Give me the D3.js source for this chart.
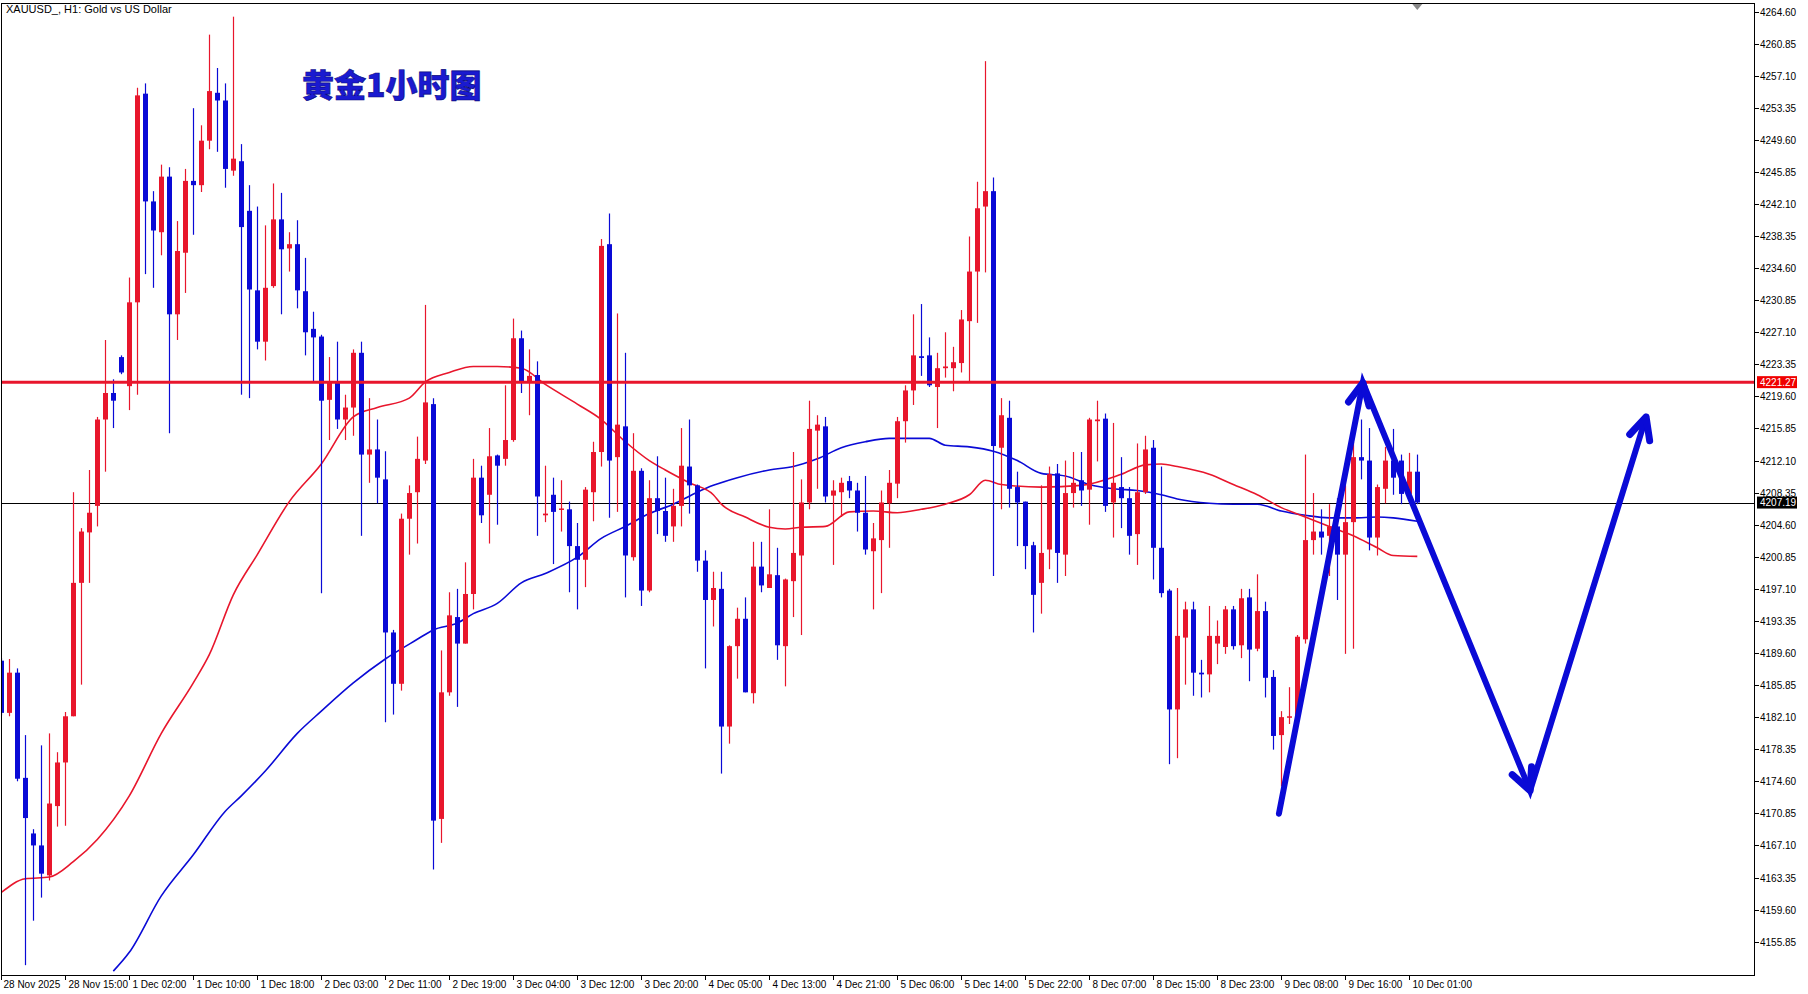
<!DOCTYPE html>
<html>
<head>
<meta charset="utf-8">
<script src="https://cdn.jsdelivr.net/npm/d3@7"></script>
<style>
  body { margin: 0; background: #fff; }
  svg { display: block; }
</style>
</head>
<body>
<svg id="chart" width="1808" height="994"></svg>
<script>
// XAUUSD H1 candles: [open, high, low, close]
const candles = [
  [4188.7,4189.0,4182.3,4182.6],[4182.6,4188.9,4182.2,4187.3],[4187.3,4187.8,4174.6,4174.9],[4175.0,4180.0,4153.1,4170.3],
  [4168.5,4169.0,4158.3,4167.1],[4167.1,4178.8,4161.0,4163.8],[4163.6,4180.2,4163.0,4172.0],[4171.7,4178.0,4169.3,4176.8],
  [4176.8,4182.7,4169.4,4182.2],[4182.2,4208.4,4182.2,4197.8],[4197.8,4204.2,4185.9,4203.8],[4203.7,4211.0,4197.8,4206.0],
  [4206.8,4217.2,4204.4,4216.9],[4216.9,4226.2,4210.8,4220.0],[4220.0,4221.6,4215.9,4219.1],[4224.2,4224.4,4222.2,4222.4],
  [4220.8,4233.5,4218.0,4230.6],[4230.6,4255.7,4219.8,4254.8],[4255.0,4256.2,4233.9,4242.4],[4242.4,4243.6,4232.3,4239.0],
  [4238.8,4246.7,4236.1,4245.3],[4245.3,4246.4,4215.3,4229.2],[4229.2,4240.1,4226.2,4236.6],[4236.4,4246.2,4231.7,4244.8],
  [4244.8,4253.3,4238.5,4244.3],[4244.3,4251.3,4243.5,4249.5],[4249.5,4261.9,4248.5,4255.3],[4255.1,4258.0,4248.2,4254.2],
  [4254.2,4256.2,4244.0,4246.2],[4246.0,4264.0,4245.4,4247.4],[4247.1,4249.1,4219.8,4239.4],[4241.3,4244.3,4219.4,4232.1],
  [4232.0,4241.8,4225.1,4226.0],[4226.0,4239.6,4223.8,4232.3],[4232.5,4244.5,4232.3,4240.3],[4240.3,4243.4,4229.2,4236.8],
  [4236.9,4238.8,4234.2,4237.4],[4237.4,4240.2,4229.9,4232.0],[4231.9,4235.8,4224.4,4227.1],[4227.5,4229.5,4221.3,4226.5],
  [4226.6,4226.8,4196.6,4219.1],[4219.2,4224.2,4214.5,4221.3],[4221.4,4226.0,4215.8,4216.9],[4216.9,4219.8,4214.5,4218.3],
  [4218.3,4225.1,4215.0,4224.7],[4224.7,4226.0,4203.3,4212.8],[4212.8,4219.4,4209.5,4213.4],[4213.4,4216.9,4207.1,4210.1],
  [4209.9,4213.2,4181.5,4192.0],[4192.0,4192.3,4182.4,4186.0],[4186.0,4205.9,4185.2,4205.3],[4205.3,4209.2,4201.1,4208.3],
  [4208.4,4214.9,4202.4,4212.3],[4212.1,4230.3,4211.7,4218.9],[4218.7,4219.4,4164.3,4170.0],[4170.2,4189.9,4167.4,4185.0],
  [4185.0,4196.7,4184.6,4194.0],[4193.8,4197.1,4183.3,4190.7],[4190.7,4200.2,4190.7,4196.5],[4196.5,4212.3,4194.7,4210.1],
  [4210.1,4211.5,4204.8,4205.7],[4208.1,4215.9,4202.4,4212.6],[4212.7,4212.8,4204.6,4211.5],[4212.3,4220.9,4211.5,4214.5],
  [4214.5,4228.7,4214.3,4226.4],[4226.4,4227.3,4220.0,4221.4],[4221.4,4225.1,4217.4,4222.0],[4222.1,4223.7,4203.3,4207.9],
  [4205.7,4211.5,4204.9,4205.9],[4208.1,4210.1,4200.0,4206.1],[4206.4,4209.8,4203.8,4206.5],[4206.4,4207.3,4196.7,4202.1],
  [4202.1,4204.8,4194.7,4200.5],[4200.5,4209.0,4197.3,4208.7],[4208.4,4214.3,4205.0,4213.1],[4213.1,4238.0,4211.4,4237.2],
  [4237.4,4241.0,4205.4,4212.1],[4212.5,4229.3,4206.1,4216.3],[4216.1,4224.7,4196.1,4201.0],[4200.8,4215.3,4200.4,4210.9],
  [4210.9,4211.2,4195.1,4196.9],[4196.9,4209.8,4196.7,4207.7],[4207.7,4212.6,4203.5,4206.2],[4206.2,4210.1,4202.6,4203.3],
  [4204.4,4208.8,4202.6,4206.8],[4206.8,4215.9,4204.4,4211.5],[4211.4,4216.9,4205.9,4209.2],[4209.2,4209.3,4199.1,4200.4],
  [4200.4,4201.6,4187.8,4195.8],[4195.8,4199.1,4192.7,4197.2],[4197.1,4199.1,4175.5,4181.0],[4181.0,4190.5,4179.0,4190.4],
  [4190.4,4194.9,4186.6,4193.6],[4193.6,4196.1,4185.0,4185.0],[4184.9,4202.6,4183.7,4199.7],[4199.7,4202.6,4196.7,4197.5],
  [4197.2,4206.4,4197.2,4198.8],[4198.7,4201.9,4188.8,4190.5],[4190.4,4198.3,4185.7,4198.2],[4198.0,4213.1,4193.8,4201.3],
  [4201.0,4209.9,4191.7,4207.2],[4207.2,4219.1,4206.4,4215.8],[4215.6,4217.4,4208.8,4216.3],[4216.1,4217.2,4207.2,4207.9],
  [4208.0,4209.8,4199.9,4208.6],[4208.4,4210.1,4205.5,4209.5],[4209.7,4210.3,4207.7,4208.6],[4208.6,4209.5,4203.8,4206.0],
  [4206.0,4210.3,4201.1,4201.7],[4201.5,4204.8,4194.7,4203.0],[4202.8,4208.6,4196.6,4207.2],[4207.1,4211.0,4201.9,4209.5],
  [4209.4,4217.2,4207.7,4216.7],[4216.7,4220.9,4214.2,4220.3],[4220.3,4229.2,4218.6,4224.4],[4224.3,4230.4,4222.0,4224.1],
  [4224.4,4226.5,4220.7,4220.9],[4220.7,4224.7,4215.9,4222.9],[4222.9,4227.1,4221.8,4223.1],[4222.9,4225.4,4220.2,4223.6],
  [4223.5,4229.7,4222.4,4228.6],[4228.4,4238.3,4221.4,4234.2],[4234.2,4244.7,4228.2,4241.6],[4241.8,4258.8,4234.1,4243.6],
  [4243.6,4245.2,4198.6,4213.8],[4213.6,4219.4,4206.4,4217.4],[4217.1,4219.1,4206.6,4208.8],[4209.0,4210.8,4202.1,4207.2],
  [4207.3,4207.3,4199.4,4202.1],[4202.2,4202.6,4192.0,4196.4],[4197.8,4209.2,4194.2,4201.3],[4201.7,4211.4,4199.4,4210.5],
  [4210.6,4211.7,4197.8,4201.3],[4201.1,4212.1,4198.6,4208.3],[4208.3,4213.1,4206.6,4209.5],[4209.8,4213.1,4206.8,4208.6],
  [4208.7,4217.1,4204.6,4216.9],[4216.7,4219.1,4212.0,4216.9],[4217.0,4217.6,4206.1,4206.8],[4207.2,4216.5,4203.1,4209.5],
  [4209.0,4212.5,4204.2,4207.7],[4207.7,4209.0,4201.1,4203.3],[4203.5,4214.1,4199.9,4208.4],[4208.4,4215.0,4208.2,4213.4],
  [4213.6,4214.5,4198.2,4201.9],[4201.9,4211.4,4196.1,4196.6],[4196.9,4197.1,4176.6,4183.0],[4183.0,4197.2,4177.3,4191.6],
  [4191.4,4195.6,4185.9,4194.7],[4194.7,4195.6,4184.6,4187.3],[4187.3,4188.8,4184.4,4187.1],[4187.1,4195.1,4185.0,4191.6],
  [4190.7,4193.4,4188.3,4191.6],[4190.3,4195.1,4189.5,4194.7],[4194.7,4195.1,4190.0,4190.4],[4190.5,4197.1,4189.0,4196.0],
  [4196.1,4197.1,4186.3,4190.0],[4190.1,4198.8,4189.8,4194.5],[4194.5,4195.6,4184.4,4186.7],[4186.8,4187.6,4178.3,4179.9],
  [4180.0,4182.8,4174.0,4182.1],[4182.1,4185.6,4181.3,4182.2],[4182.1,4191.7,4181.3,4191.5],[4191.2,4212.8,4190.7,4202.8],
  [4202.8,4208.3,4201.1,4203.8],[4203.8,4206.4,4201.1,4203.1],[4203.3,4207.0,4198.6,4204.4],[4204.4,4207.7,4195.8,4201.1],
  [4201.1,4209.2,4189.5,4204.9],[4204.9,4214.3,4190.1,4212.5],[4212.5,4216.9,4209.9,4212.1],[4212.1,4215.9,4201.6,4203.1],
  [4203.1,4209.3,4201.0,4209.0],[4208.8,4213.7,4207.1,4212.1],[4212.1,4215.8,4208.1,4210.1],[4212.1,4212.8,4207.0,4208.2],
  [4208.2,4213.0,4207.7,4210.8],[4210.8,4212.8,4207.0,4207.19]
];

// moving averages: [bar index, value]
const redMA = [
  [0,4161.6],[3,4163.2],[6,4163.4],[9,4165.2],[12,4167.8],[16,4172.9],[20,4180.2],[24,4186.1],[26,4189.4],[29,4196.4],
  [32,4201.1],[36,4207.3],[40,4211.7],[44,4217.2],[47,4218.3],[51,4219.4],[53,4221.3],[56,4222.4],[59,4223.1],[62,4223.1],
  [65,4222.9],[68,4221.0],[72,4218.7],[75,4216.9],[78,4214.3],[81,4212.1],[83,4211.0],[86,4209.5],[89,4208.1],[90,4207.0],
  [93,4205.5],[96,4204.3],[98,4204.1],[100,4204.3],[103,4204.4],[106,4206.1],[109,4206.2],[112,4206.0],[115,4206.4],[118,4207.0],
  [121,4208.1],[123,4209.8],[125,4209.3],[130,4209.0],[135,4209.2],[140,4210.5],[143,4211.6],[145,4211.7],[147,4211.4],[151,4210.5],
  [154,4209.3],[157,4208.1],[160,4206.6],[163,4205.5],[166,4204.4],[169,4203.3],[172,4201.9],[174,4201.0],[177,4200.9]
];
const blueMA = [
  [14,4152.4],[16,4154.6],[20,4161.2],[24,4166.0],[28,4171.1],[30,4172.9],[33,4175.8],[37,4180.2],[40,4182.8],[44,4186.1],
  [48,4188.9],[52,4191.2],[54,4192.3],[57,4193.1],[59,4194.2],[62,4195.4],[65,4197.8],[68,4198.9],[72,4200.8],[75,4203.0],
  [78,4204.4],[81,4205.9],[84,4207.0],[87,4208.4],[89,4209.2],[92,4210.1],[96,4211.0],[99,4211.4],[102,4212.3],[105,4213.6],
  [108,4214.3],[111,4214.7],[114,4214.7],[116,4214.7],[118,4213.9],[121,4213.7],[124,4213.2],[127,4212.1],[130,4210.6],[133,4210.3],
  [136,4209.3],[139,4208.8],[142,4208.6],[145,4208.1],[147,4207.6],[151,4207.1],[154,4207.0],[157,4207.0],[160,4206.2],[163,4205.7],
  [166,4205.4],[169,4205.4],[172,4205.5],[174,4205.4],[177,4205.0]
];

const xLabels = [
  "28 Nov 2025","28 Nov 15:00","1 Dec 02:00","1 Dec 10:00","1 Dec 18:00","2 Dec 03:00","2 Dec 11:00","2 Dec 19:00",
  "3 Dec 04:00","3 Dec 12:00","3 Dec 20:00","4 Dec 05:00","4 Dec 13:00","4 Dec 21:00","5 Dec 06:00","5 Dec 14:00",
  "5 Dec 22:00","8 Dec 07:00","8 Dec 15:00","8 Dec 23:00","9 Dec 08:00","9 Dec 16:00","10 Dec 01:00"
];
const yTicks = d3.range(30).map(i => 4264.60 - i * 3.75);
const resistance = 4221.27;
const lastPrice = 4207.19;
// hand-drawn arrow path: [bar index, price]
const arrowPath = [[159.7,4170.8],[170.2,4221.2],[191.1,4173.5],[205.6,4217.2]];

const RED = "#e8162c", BLUE = "#0a0ad6";
const pL = 1, pR = 1754, pT = 3, pB = 975;

const svg = d3.select("#chart");
const x = d3.scaleLinear().domain([0, 177]).range([1.3, 1417.3]);
const y = d3.scaleLinear().domain([4151.95, 4265.6]).range([pB, pT]);

svg.append("defs").append("clipPath").attr("id", "plot")
  .append("rect").attr("x", pL).attr("y", pT).attr("width", pR - pL).attr("height", pB - pT);

const plot = svg.append("g").attr("clip-path", "url(#plot)");

// level lines
plot.append("line").attr("x1", pL).attr("x2", pR)
  .attr("y1", Math.round(y(lastPrice)) + 0.5).attr("y2", Math.round(y(lastPrice)) + 0.5)
  .attr("stroke", "#000").attr("stroke-width", 1).attr("shape-rendering", "crispEdges");

// moving averages
const line = d3.line().x(d => x(d[0])).y(d => y(d[1])).curve(d3.curveMonotoneX);
plot.append("path").attr("d", line(blueMA)).attr("fill", "none").attr("stroke", BLUE).attr("stroke-width", 1.6);
plot.append("path").attr("d", line(redMA)).attr("fill", "none").attr("stroke", RED).attr("stroke-width", 1.6);

// candles
const bars = plot.selectAll(".candle").data(candles).join("g").attr("class", "candle")
  .attr("fill", d => d[3] > d[0] ? RED : BLUE)
  .attr("stroke", d => d[3] > d[0] ? RED : BLUE);
bars.append("line")
  .attr("x1", (d, i) => Math.round(x(i)) + 0.5).attr("x2", (d, i) => Math.round(x(i)) + 0.5)
  .attr("y1", d => y(d[1])).attr("y2", d => y(d[2])).attr("stroke-width", 1.2);
bars.append("rect")
  .attr("stroke", "none")
  .attr("x", (d, i) => Math.round(x(i)) - 2)
  .attr("width", 5)
  .attr("y", d => y(Math.max(d[0], d[3])))
  .attr("height", d => Math.max(1.5, y(Math.min(d[0], d[3])) - y(Math.max(d[0], d[3]))));

plot.append("line").attr("x1", pL).attr("x2", pR)
  .attr("y1", y(resistance)).attr("y2", y(resistance))
  .attr("stroke", RED).attr("stroke-width", 3);

// arrows
const ap = arrowPath.map(d => [x(d[0]), y(d[1])]);
plot.append("path").attr("d", d3.line()(ap))
  .attr("fill", "none").attr("stroke", BLUE).attr("stroke-width", 6)
  .attr("stroke-linejoin", "miter").attr("stroke-linecap", "round");
for (let k = 1; k < ap.length; k++) {
  const [x0, y0] = ap[k - 1], [x1, y1] = ap[k];
  const a = Math.atan2(y1 - y0, x1 - x0), L = 24, w = 0.45;
  const p1 = [x1 - L * Math.cos(a - w), y1 - L * Math.sin(a - w)];
  const p2 = [x1 - L * Math.cos(a + w), y1 - L * Math.sin(a + w)];
  plot.append("path").attr("d", d3.line()([p1, [x1, y1], p2]))
    .attr("fill", "none").attr("stroke", BLUE).attr("stroke-width", 7)
    .attr("stroke-linejoin", "round").attr("stroke-linecap", "round");
}

// shift marker
svg.append("path").attr("d", `M${x(177) - 5},${pT + 1}L${x(177) + 5},${pT + 1}L${x(177)},${pT + 7}Z`).attr("fill", "#888");

// frame
svg.append("rect").attr("x", pL + 0.5).attr("y", pT + 0.5).attr("width", pR - pL).attr("height", pB - pT)
  .attr("fill", "none").attr("stroke", "#000").attr("shape-rendering", "crispEdges");

// y axis
const yAxis = svg.append("g").attr("font-family", "Liberation Sans, Arial, sans-serif").attr("font-size", 10);
yAxis.selectAll(".yt").data(yTicks).join("g").attr("class", "yt")
  .attr("transform", d => `translate(${pR},${Math.round(y(d)) + 0.5})`)
  .call(g => g.append("line").attr("x2", 5).attr("stroke", "#000").attr("shape-rendering", "crispEdges"))
  .call(g => g.append("text").attr("x", 6).attr("dy", "0.35em").text(d => d.toFixed(2)));

function priceTag(v, fill) {
  const g = svg.append("g").attr("transform", `translate(${pR + 3},${y(v)})`);
  g.append("rect").attr("x", 0).attr("y", -6).attr("width", 40).attr("height", 12).attr("fill", fill);
  g.append("text").attr("x", 3).attr("dy", "0.35em").attr("fill", "#fff")
    .attr("font-family", "Liberation Sans, Arial, sans-serif").attr("font-size", 10).text(v.toFixed(2));
}
priceTag(resistance, "#f00000");
priceTag(lastPrice, "#000");

// x axis
const xAxis = svg.append("g").attr("font-family", "Liberation Sans, Arial, sans-serif").attr("font-size", 10);
xAxis.selectAll(".xt").data(xLabels).join("g").attr("class", "xt")
  .attr("transform", (d, i) => `translate(${Math.round(x(i * 8)) + 0.5},${pB})`)
  .call(g => g.append("line").attr("y2", 5).attr("stroke", "#000").attr("shape-rendering", "crispEdges"))
  .call(g => g.append("text").attr("x", (d, i) => i === 0 ? 2 : 3).attr("y", 13).text(d => d));

// titles
svg.append("text").attr("x", 6).attr("y", 13)
  .attr("font-family", "Liberation Sans, Arial, sans-serif").attr("font-size", 11).text("XAUUSD_, H1:  Gold vs US Dollar");
svg.append("text").attr("x", 302).attr("y", 97)
  .attr("font-family", "Noto Sans CJK SC, sans-serif").attr("font-weight", 900).attr("font-size", 32)
  .attr("fill", "#1a1ad0").attr("stroke", "#0a0a80").attr("stroke-width", 0.6)
  .text("黄金1小时图");
</script>
</body>
</html>
